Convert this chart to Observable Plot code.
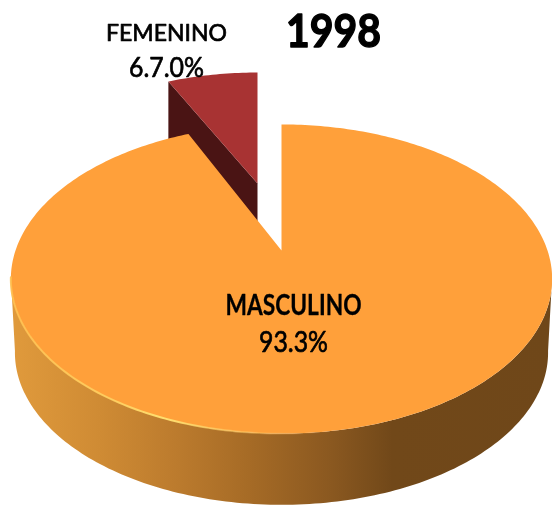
<!DOCTYPE html>
<html><head><meta charset="utf-8">
<script src="https://cdn.jsdelivr.net/npm/d3@7"></script>
<script src="https://cdn.jsdelivr.net/npm/@observablehq/plot@0.6"></script>
<style>html,body{margin:0;padding:0;background:#fff}svg{display:block;filter:blur(0.45px)}</style>
</head><body><div id="chart"></div>
<script>
const year = "1998";
const categories = ["MASCULINO", "FEMENINO"];
const shares = [93.3, 6.7];
const shareLabels = ["93.3%", "6.7.0%"];

// Perspective pie model (layout constants, not data)
const W = 552, H = 508;
const rad = d => d * Math.PI / 180;
const male = {x0: 281, y0: 250, a: 266, b: 149.3, k: 0.1846};
const maleBase = {x0: 281, y0: 324, a: 262, b: 147, k: 0.1846};
const fem = {x0: 257, y0: 183, a: 235, b: 120.4, k: 0.085};
const project = (m, deg, r = 1) => {
  const u = r * Math.sin(rad(deg)), v = r * Math.cos(rad(deg)), d = 1 + m.k * v;
  return {x: m.x0 + m.a * u / d, y: m.y0 - m.b * v / d};
};
const sweepMale = shares[0] * 3.6, sweepFem = shares[1] * 3.6;
const degs = n => d3.range(0, Math.ceil(n) + 1).map(d => Math.min(d, n));

const maleDegs = degs(sweepMale);
const maleTop = [{x: male.x0, y: male.y0}, ...maleDegs.map(d => project(male, d))];
const frontDegs = maleDegs.filter(d => Math.cos(rad(d)) <= -male.k + 0.02 && d >= 90 && d <= 275);
const maleWall = [...frontDegs.map(d => project(male, d)), ...frontDegs.slice().reverse().map(d => project(maleBase, d))];
const rim = frontDegs.map(d => project(male, d));

const femTop = [{x: fem.x0, y: fem.y0}, ...degs(sweepFem).map(d => project(fem, -d))];
const femEdge = project(fem, -sweepFem);
const femDepth = 62;
const femWall = [{x: fem.x0, y: fem.y0}, femEdge, {x: femEdge.x, y: femEdge.y + femDepth}, {x: fem.x0, y: fem.y0 + femDepth}];

const labels = [
  {t: year, x: 333, y: 32, size: 46, w: "bold", sw: 1.4, len: 95},
  {t: categories[1], x: 166, y: 33, size: 23, w: "normal", sw: 0.7, len: 121},
  {t: shareLabels[1], x: 166, y: 68, size: 27, w: "normal", sw: 0.7, len: 75},
  {t: categories[0], x: 293, y: 306, size: 28, w: "bold", sw: 0.3, len: 136},
  {t: shareLabels[0], x: 293, y: 343, size: 28, w: "normal", sw: 0.7, len: 69}
];

const gradient = (id, stops) => {
  const g = d3.create("svg:linearGradient").attr("id", id).attr("gradientUnits", "userSpaceOnUse")
    .attr("x1", 0).attr("x2", W).attr("y1", 0).attr("y2", 0);
  for (const [o, c, a] of stops) g.append("stop").attr("offset", o).attr("stop-color", c).attr("stop-opacity", a ?? 1);
  return g.node();
};
const defs = () => {
  const d = d3.create("svg:defs");
  d.node().append(gradient("wall", [[0.02, "#e09a3c"], [0.18, "#cf8b34"], [0.31, "#bd7c2e"], [0.45, "#a66b26"], [0.6, "#8a5820"], [0.71, "#714819"], [1, "#6f4719"]]));
  d.node().append(gradient("rim", [[0.02, "#ffc050", 0.9], [0.2, "#ffd060", 0.9], [0.3, "#ffe070", 1], [0.45, "#ffc860", 0.5], [0.6, "#ffa03a", 0], [1, "#ffa03a", 0]]));
  return d.node();
};

const chart = Plot.plot({
  width: W, height: H,
  margin: 0,
  x: {domain: [0, W], range: [0, W], axis: null},
  y: {domain: [0, H], range: [0, H], axis: null},
  marks: [
    defs,
    Plot.line(femWall, {x: "x", y: "y", fill: "#4a1414", stroke: "none"}),
    Plot.line(femTop, {x: "x", y: "y", fill: "#a83333", stroke: "none"}),
    Plot.line(maleWall, {x: "x", y: "y", fill: "url(#wall)", stroke: "none"}),
    Plot.line(maleTop, {x: "x", y: "y", fill: "#ffa03a", stroke: "none"}),
    Plot.line(rim, {x: "x", y: "y", stroke: "url(#rim)", strokeWidth: 2}),
    ...labels.map(l => Plot.text([l], {
      x: "x", y: "y", text: "t", fontSize: l.size, fontWeight: l.w, fontFamily: "Lato",
      fill: "#000", stroke: "#000", strokeWidth: l.sw, textAnchor: "middle", lineAnchor: "middle"
    }))
  ]
});
// Squeeze the glyphs to the reference's narrow proportions
chart.querySelectorAll("text").forEach((el, i) => {
  el.setAttribute("textLength", labels[i].len);
  el.setAttribute("lengthAdjust", "spacingAndGlyphs");
});
document.getElementById("chart").append(chart);
</script>
</body></html>
